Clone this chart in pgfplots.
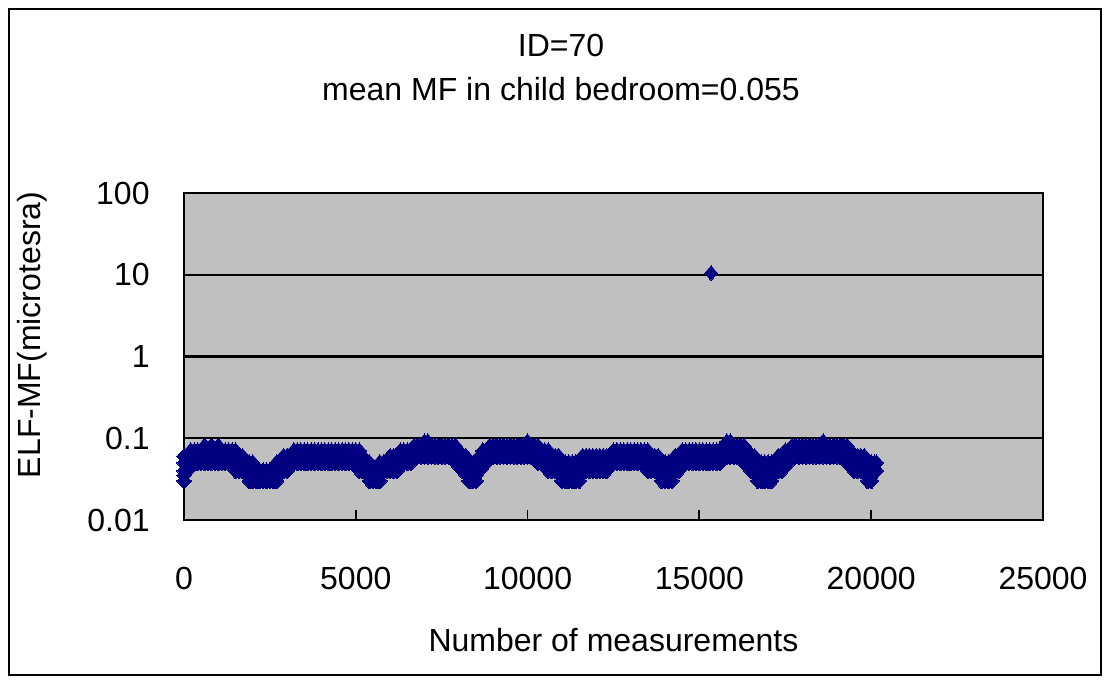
\documentclass[border=0pt]{standalone}
\usepackage{pgfplots}
\pgfplotsset{compat=1.18}
\usepackage{pgfplotstable}
\usepackage{fontspec}
\setmainfont{Liberation Sans}
\definecolor{plotgray}{RGB}{192,192,192}
\definecolor{navy}{RGB}{0,0,128}
\newcommand\f{\fontsize{16}{22}\selectfont}
\pgfplotstableread{
x a b c d e
0 0.03 0.035 0.04 0.05 0.06
100 0.04 0.05 0.06 nan nan
200 0.05 0.06 0.07 nan nan
300 0.05 0.06 0.07 nan nan
400 0.05 0.06 0.07 nan nan
500 0.05 0.06 0.07 nan nan
600 0.05 0.06 0.07 0.08 nan
700 0.05 0.06 0.07 nan nan
800 0.05 0.06 0.07 0.08 nan
900 0.05 0.06 0.07 nan nan
1000 0.05 0.06 0.07 0.08 nan
1100 0.05 0.06 0.07 nan nan
1200 0.05 0.06 0.07 nan nan
1300 0.05 0.06 0.07 nan nan
1400 0.05 0.06 0.07 nan nan
1500 0.04 0.05 0.06 0.07 nan
1600 0.04 0.05 0.06 nan nan
1700 0.04 0.05 0.06 nan nan
1800 0.04 0.05 nan nan nan
1900 0.03 0.035 0.04 0.05 nan
2000 0.03 0.035 0.04 0.05 nan
2100 0.03 0.035 0.04 nan nan
2200 0.03 0.035 0.04 nan nan
2300 0.03 0.035 0.04 nan nan
2400 0.03 0.035 0.04 nan nan
2500 0.03 0.035 0.04 nan nan
2600 0.03 0.035 0.04 nan nan
2700 0.03 0.035 0.04 0.05 nan
2800 0.04 0.05 nan nan nan
2900 0.04 0.05 0.06 nan nan
3000 0.04 0.05 0.06 nan nan
3100 0.05 0.06 nan nan nan
3200 0.05 0.06 0.07 nan nan
3300 0.05 0.06 0.07 nan nan
3400 0.05 0.06 0.07 nan nan
3500 0.05 0.06 0.07 nan nan
3600 0.05 0.06 0.07 nan nan
3700 0.05 0.06 0.07 nan nan
3800 0.05 0.06 0.07 nan nan
3900 0.05 0.06 0.07 nan nan
4000 0.05 0.06 0.07 nan nan
4100 0.05 0.06 0.07 nan nan
4200 0.05 0.06 0.07 nan nan
4300 0.05 0.06 0.07 nan nan
4400 0.05 0.06 0.07 nan nan
4500 0.05 0.06 0.07 nan nan
4600 0.05 0.06 0.07 nan nan
4700 0.05 0.06 0.07 nan nan
4800 0.05 0.06 0.07 nan nan
4900 0.05 0.06 0.07 nan nan
5000 0.05 0.06 0.07 nan nan
5100 0.04 0.05 0.06 0.07 nan
5200 0.04 0.05 0.06 nan nan
5300 0.04 0.05 nan nan nan
5400 0.03 0.035 0.04 0.05 nan
5500 0.03 0.035 0.04 nan nan
5600 0.03 0.035 0.04 nan nan
5700 0.03 0.035 0.04 0.05 nan
5800 0.04 0.05 nan nan nan
5900 0.04 0.05 nan nan nan
6000 0.04 0.05 0.06 nan nan
6100 0.04 0.05 0.06 nan nan
6200 0.04 0.05 0.06 nan nan
6300 0.05 0.06 0.07 nan nan
6400 0.05 0.06 0.07 nan nan
6500 0.05 0.06 0.07 nan nan
6600 0.05 0.06 0.07 nan nan
6700 0.06 0.07 0.08 nan nan
6800 0.06 0.07 0.08 nan nan
6900 0.06 0.07 0.08 nan nan
7000 0.06 0.07 0.08 0.09 nan
7100 0.06 0.07 0.08 0.09 nan
7200 0.06 0.07 0.08 nan nan
7300 0.06 0.07 0.08 nan nan
7400 0.06 0.07 0.08 nan nan
7500 0.06 0.07 0.08 nan nan
7600 0.06 0.07 0.08 nan nan
7700 0.06 0.07 0.08 nan nan
7800 0.06 0.07 0.08 nan nan
7900 0.05 0.06 0.07 0.08 nan
8000 0.05 0.06 0.07 nan nan
8100 0.04 0.05 0.06 nan nan
8200 0.04 0.05 0.06 nan nan
8300 0.03 0.035 0.04 0.05 nan
8400 0.03 0.035 0.04 nan nan
8500 0.03 0.035 0.04 0.05 nan
8600 0.04 0.05 0.06 nan nan
8700 0.05 0.06 0.07 nan nan
8800 0.05 0.06 0.07 nan nan
8900 0.06 0.07 0.08 nan nan
9000 0.06 0.07 0.08 nan nan
9100 0.06 0.07 0.08 nan nan
9200 0.06 0.07 0.08 nan nan
9300 0.06 0.07 0.08 nan nan
9400 0.06 0.07 0.08 nan nan
9500 0.06 0.07 0.08 nan nan
9600 0.06 0.07 0.08 nan nan
9700 0.06 0.07 0.08 nan nan
9800 0.06 0.07 0.08 nan nan
9900 0.06 0.07 0.08 nan nan
10000 0.06 0.07 0.08 0.09 nan
10100 0.06 0.07 0.08 nan nan
10200 0.06 0.07 0.08 nan nan
10300 0.05 0.06 0.07 0.08 nan
10400 0.05 0.06 0.07 nan nan
10500 0.05 0.06 0.07 nan nan
10600 0.04 0.05 0.06 0.07 nan
10700 0.04 0.05 0.06 nan nan
10800 0.04 0.05 0.06 nan nan
10900 0.04 0.05 0.06 nan nan
11000 0.03 0.035 0.04 0.05 nan
11100 0.03 0.035 0.04 0.05 nan
11200 0.03 0.035 0.04 0.05 nan
11300 0.03 0.035 0.04 0.05 nan
11400 0.03 0.035 0.04 0.05 nan
11500 0.03 0.035 0.04 0.05 nan
11600 0.04 0.05 0.06 nan nan
11700 0.04 0.05 0.06 nan nan
11800 0.04 0.05 0.06 nan nan
11900 0.04 0.05 0.06 nan nan
12000 0.04 0.05 0.06 nan nan
12100 0.04 0.05 0.06 nan nan
12200 0.04 0.05 0.06 nan nan
12300 0.04 0.05 0.06 nan nan
12400 0.05 0.06 nan nan nan
12500 0.05 0.06 0.07 nan nan
12600 0.05 0.06 0.07 nan nan
12700 0.05 0.06 0.07 nan nan
12800 0.05 0.06 0.07 nan nan
12900 0.05 0.06 0.07 nan nan
13000 0.05 0.06 0.07 nan nan
13100 0.05 0.06 0.07 nan nan
13200 0.05 0.06 0.07 nan nan
13300 0.05 0.06 0.07 nan nan
13400 0.05 0.06 0.07 nan nan
13500 0.04 0.05 0.06 0.07 nan
13600 0.04 0.05 0.06 nan nan
13700 0.04 0.05 0.06 nan nan
13800 0.04 0.05 0.06 nan nan
13900 0.03 0.035 0.04 0.05 nan
14000 0.03 0.035 0.04 0.05 nan
14100 0.03 0.035 0.04 0.05 nan
14200 0.03 0.035 0.04 0.05 nan
14300 0.04 0.05 0.06 nan nan
14400 0.04 0.05 0.06 nan nan
14500 0.05 0.06 0.07 nan nan
14600 0.05 0.06 0.07 nan nan
14700 0.05 0.06 0.07 nan nan
14800 0.05 0.06 0.07 nan nan
14900 0.05 0.06 0.07 nan nan
15000 0.05 0.06 0.07 nan nan
15100 0.05 0.06 0.07 nan nan
15200 0.05 0.06 0.07 nan nan
15300 0.05 0.06 0.07 nan nan
15400 0.05 0.06 0.07 nan nan
15500 0.05 0.06 0.07 nan nan
15600 0.05 0.06 0.07 nan nan
15700 0.06 0.07 0.08 nan nan
15800 0.06 0.07 0.08 0.09 nan
15900 0.06 0.07 0.08 0.09 nan
16000 0.06 0.07 0.08 nan nan
16100 0.06 0.07 0.08 nan nan
16200 0.06 0.07 0.08 nan nan
16300 0.05 0.06 0.07 0.08 nan
16400 0.05 0.06 0.07 nan nan
16500 0.04 0.05 0.06 nan nan
16600 0.04 0.05 0.06 nan nan
16700 0.03 0.035 0.04 0.05 nan
16800 0.03 0.035 0.04 0.05 nan
16900 0.03 0.035 0.04 0.05 nan
17000 0.03 0.035 0.04 0.05 nan
17100 0.03 0.035 0.04 0.05 nan
17200 0.04 0.05 nan nan nan
17300 0.04 0.05 0.06 nan nan
17400 0.04 0.05 0.06 nan nan
17500 0.05 0.06 0.07 nan nan
17600 0.05 0.06 0.07 nan nan
17700 0.06 0.07 0.08 nan nan
17800 0.06 0.07 0.08 nan nan
17900 0.06 0.07 0.08 nan nan
18000 0.06 0.07 0.08 nan nan
18100 0.06 0.07 0.08 nan nan
18200 0.06 0.07 0.08 nan nan
18300 0.06 0.07 0.08 nan nan
18400 0.06 0.07 0.08 nan nan
18500 0.06 0.07 0.08 nan nan
18600 0.06 0.07 0.08 0.09 nan
18700 0.06 0.07 0.08 nan nan
18800 0.06 0.07 0.08 nan nan
18900 0.06 0.07 0.08 nan nan
19000 0.06 0.07 0.08 nan nan
19100 0.06 0.07 0.08 nan nan
19200 0.06 0.07 0.08 nan nan
19300 0.05 0.06 0.07 0.08 nan
19400 0.05 0.06 0.07 nan nan
19500 0.04 0.05 0.06 nan nan
19600 0.04 0.05 0.06 nan nan
19700 0.04 0.05 0.06 nan nan
19800 0.04 0.05 0.06 nan nan
19900 0.03 0.035 0.04 0.05 nan
20000 0.03 0.035 0.04 0.05 nan
20100 0.04 0.05 nan nan nan
20150 0.04 0.05 nan nan nan
}\band
\begin{document}
\begin{tikzpicture}
\useasboundingbox (-92pt,-82pt) rectangle (463pt,260pt);
\begin{axis}[
  at={(0,0)}, anchor=south west,
  scale only axis, width=429.5pt, height=163.5pt,
  xmin=0, xmax=25000, ymode=log, ymin=0.01, ymax=100,
  scaled x ticks=false,
  axis background/.style={fill=plotgray},
  axis line style={line width=0.9pt, black},
  xtick={0,5000,10000,15000,20000,25000},
  xticklabels={0,5000,10000,15000,20000,25000},
  ytick={0.01,0.1,1,10,100},
  yticklabels={0.01,0.1,1,10,100},
  yminorticks=false,
  tick align=inside, major tick length=5pt,
  tick style={black, line width=0.9pt},
  xtick pos=bottom, ytick pos=left,
  ymajorgrids, grid style={black, line width=0.9pt},
  extra y ticks={1}, extra y tick labels={},
  extra y tick style={grid style={black, line width=1.5pt}},
  tick label style={font=\f},
  xticklabel style={anchor=center, yshift=-29pt},
  yticklabel style={anchor=east, inner sep=0pt, xshift=-17pt},
  xlabel={Number of measurements},
  xlabel style={at={(axis description cs:0.5,-0.367)}, anchor=center, font=\f},
  ylabel={ELF-MF(microtesra)},
  ylabel style={at={(axis description cs:-0.177,0.566)}, anchor=center, font=\f},
  title={ID=70\\mean MF in child bedroom=0.055},
  title style={at={(axis description cs:0.4389,1.348)}, anchor=center, align=center, font=\f},
  clip=false,
]
\foreach \c in {a,b,c,d,e}{
  \addplot[only marks, mark=diamond*, mark size=4pt, color=navy,
    mark options={xscale=1.2, draw=navy, fill=navy, line width=0pt}]
    table[x=x, y=\c]{\band};
}
\addplot[only marks, mark=diamond*, mark size=3.6pt, color=navy,
  mark options={xscale=1.2, draw=navy, fill=navy, line width=0pt}]
  coordinates {(15340,10.5)};
\end{axis}
\draw[line width=0.6pt, black] (-87.5pt,-77.5pt) rectangle (458.5pt,255.5pt);
\end{tikzpicture}
\end{document}
